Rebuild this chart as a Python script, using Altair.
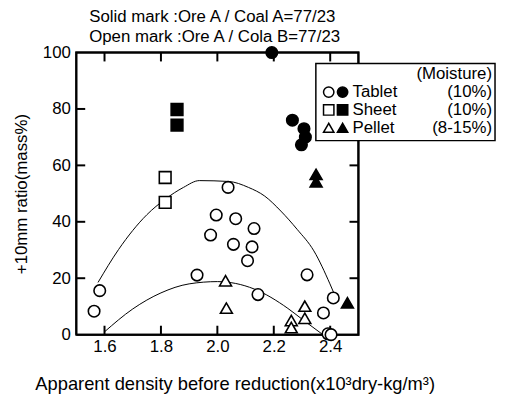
import altair as alt
import pandas as pd

# ---------------- data ----------------
# Open marks: Ore A / Cola B
tablet_open_x = [1.563, 1.583, 1.928, 1.976, 1.996, 2.038, 2.065, 2.057, 2.130, 2.123, 2.107, 2.144, 2.318, 2.411, 2.376, 2.392, 2.403]
tablet_open_y = [8.3, 15.6, 21.1, 35.3, 42.4, 52.2, 41.1, 32.0, 37.6, 31.1, 26.2, 14.2, 21.2, 13.0, 7.7, 0.3, 0.0]
sheet_open_x = [1.815, 1.815]
sheet_open_y = [55.7, 46.9]
pellet_open_x = [2.029, 2.032, 2.310, 2.310, 2.262, 2.262]
pellet_open_y = [19.1, 9.4, 10.1, 5.8, 5.0, 2.5]
# Solid marks: Ore A / Coal A
tablet_solid_x = [2.193, 2.266, 2.307, 2.312, 2.298]
tablet_solid_y = [100.0, 76.0, 73.0, 70.0, 67.3]
sheet_solid_x = [1.857, 1.857]
sheet_solid_y = [79.8, 74.3]
pellet_solid_x = [2.350, 2.350, 2.461]
pellet_solid_y = [56.8, 54.2, 11.3]

# fitted curves
upper_x = [1.577, 1.65, 1.75, 1.815, 1.88, 1.936, 2.04, 2.11, 2.168, 2.225, 2.283, 2.342, 2.399, 2.417]
upper_y = [18.5, 30.2, 42.5, 48.0, 52.2, 54.6, 54.3, 52.2, 49.1, 43.8, 37.3, 29.7, 18.0, 13.8]
lower_x = [1.60, 1.70, 1.80, 1.90, 2.00, 2.13, 2.25, 2.30, 2.37]
lower_y = [1.0, 9.1, 14.8, 18.0, 18.8, 16.2, 9.3, 5.5, 0.3]

x_ticks = [1.6, 1.8, 2.0, 2.2, 2.4]
y_ticks = [20, 40, 60, 80]
y_labels = [0, 20, 40, 60, 80, 100]
x_domain = [1.5, 2.5]
y_domain = [0, 100]

forms = ["Tablet", "Sheet", "Pellet"]
shapes = ["circle", "square", "triangle-up"]
moisture = ["(10%)", "(10%)", "(8-15%)"]
title_lines = ["Solid mark :Ore A / Coal A=77/23", "Open mark :Ore A / Cola B=77/23"]
x_title = "Apparent density before reduction(x10³dry-kg/m³)"
y_title = "+10mm ratio(mass%)"

# ---------------- tables ----------------
rows = []
for form, mix, xs_, ys_ in [
    ("Tablet", "Cola B", tablet_open_x, tablet_open_y),
    ("Sheet", "Cola B", sheet_open_x, sheet_open_y),
    ("Pellet", "Cola B", pellet_open_x, pellet_open_y),
    ("Tablet", "Coal A", tablet_solid_x, tablet_solid_y),
    ("Sheet", "Coal A", sheet_solid_x, sheet_solid_y),
    ("Pellet", "Coal A", pellet_solid_x, pellet_solid_y),
]:
    for a, b in zip(xs_, ys_):
        rows.append({"x": a, "y": b, "form": form, "mix": mix})
pts = pd.DataFrame(rows)
upper = pd.DataFrame({"x": upper_x, "y": upper_y})
lower = pd.DataFrame({"x": lower_x, "y": lower_y})

W, H = 285, 285
TL = 9  # inward tick length in pixels
FONT = "Liberation Sans"
FS = 17
xs = alt.Scale(domain=x_domain, nice=False, zero=False)
ys = alt.Scale(domain=y_domain, nice=False)

# tick length expressed in data units of each scale
dx_tick = (x_domain[1] - x_domain[0]) * TL / W
dy_tick = (y_domain[1] - y_domain[0]) * TL / H

# frame corners (the scale domain) and inward tick segments
frame_df = pd.DataFrame({
    "x": [x_domain[0], x_domain[1], x_domain[1], x_domain[0], x_domain[0]],
    "y": [y_domain[0], y_domain[0], y_domain[1], y_domain[1], y_domain[0]],
    "i": [0, 1, 2, 3, 4],
})
xt_rows = []
for v in x_ticks:
    xt_rows.append({"x": v, "y": y_domain[0], "y2": y_domain[0] + dy_tick})
    xt_rows.append({"x": v, "y": y_domain[1], "y2": y_domain[1] - dy_tick})
xt = pd.DataFrame(xt_rows)
yt_rows = []
for v in y_ticks:
    yt_rows.append({"y": v, "x": x_domain[0], "x2": x_domain[0] + dx_tick})
    yt_rows.append({"y": v, "x": x_domain[1], "x2": x_domain[1] - dx_tick})
yt = pd.DataFrame(yt_rows)

ax_x = alt.Axis(orient="bottom", values=x_ticks, format=".1f", ticks=False, tickSize=0,
                domain=False, grid=False, labelFontSize=FS, labelFont=FONT, labelColor="black",
                labelPadding=4, title=x_title, titleFontSize=18.5, titleFont=FONT,
                titleFontWeight="normal", titleColor="black", titlePadding=20,
                titleX=160, titleAlign="center")
ax_y = alt.Axis(orient="left", values=y_labels, ticks=False, tickSize=0, domain=False, grid=False,
                labelFontSize=FS, labelFont=FONT, labelColor="black", labelPadding=6,
                title=y_title, titleFontSize=FS, titleFont=FONT, titleFontWeight="normal",
                titleColor="black", titlePadding=12)

X = alt.X("x:Q", scale=xs, axis=ax_x)
Y = alt.Y("y:Q", scale=ys, axis=ax_y)

one = alt.Data(values=[{"k": 0}])

frame = alt.Chart(frame_df).mark_line(color="black", strokeWidth=2, interpolate="linear").encode(
    x=X, y=Y, order="i:Q")
ticks_x = alt.Chart(xt).mark_rule(color="black", strokeWidth=2).encode(x=X, y=Y, y2="y2:Q")
ticks_y = alt.Chart(yt).mark_rule(color="black", strokeWidth=2).encode(x=X, y=Y, x2="x2:Q")

curve_up = alt.Chart(upper).mark_line(color="black", strokeWidth=1, interpolate="monotone").encode(
    x=X, y=Y, order="x:Q")
curve_low = alt.Chart(lower).mark_line(color="black", strokeWidth=1, interpolate="monotone").encode(
    x=X, y=Y, order="x:Q")
points = alt.Chart(pts).mark_point(filled=True, stroke="black", strokeWidth=1.6, opacity=1).encode(
    x=X, y=Y,
    shape=alt.Shape("form:N", scale=alt.Scale(domain=forms, range=shapes), legend=None),
    fill=alt.Fill("mix:N", scale=alt.Scale(domain=["Coal A", "Cola B"], range=["black", "white"]), legend=None),
    size=alt.Size("form:N", scale=alt.Scale(domain=forms, range=[135, 145, 135]), legend=None),
)

# ---------------- legend box ----------------
BX0, BX1, BY0, BY1 = 242, 423, 11, 89
LFS = 17
legend_layers = [
    alt.Chart(one).mark_rect(fill="white", stroke="black", strokeWidth=1.5).encode(
        x=alt.value(BX0), x2=alt.value(BX1), y=alt.value(BY0), y2=alt.value(BY1)),
    alt.Chart(one).mark_text(text="(Moisture)", align="right", baseline="middle", fontSize=LFS,
                             font=FONT, color="black").encode(x=alt.value(BX1 - 3), y=alt.value(22)),
]
row_y = [40, 58, 76]
for form, shp, moist, ry in zip(forms, shapes, moisture, row_y):
    legend_layers += [
        alt.Chart(one).mark_point(shape=shp, filled=True, fill="white", stroke="black", strokeWidth=1.5,
                                  size=110, opacity=1).encode(x=alt.value(255), y=alt.value(ry)),
        alt.Chart(one).mark_point(shape=shp, filled=True, fill="black", stroke="black", strokeWidth=1.5,
                                  size=110, opacity=1).encode(x=alt.value(269), y=alt.value(ry)),
        alt.Chart(one).mark_text(text=form, align="left", baseline="middle", fontSize=LFS, font=FONT,
                                 color="black").encode(x=alt.value(279), y=alt.value(ry)),
        alt.Chart(one).mark_text(text=moist, align="right", baseline="middle", fontSize=LFS, font=FONT,
                                 color="black").encode(x=alt.value(BX1 - 3), y=alt.value(ry)),
    ]

chart = alt.layer(
    curve_up, curve_low, frame, ticks_x, ticks_y, points, *legend_layers
).properties(
    width=W, height=H,
    background="white",
    padding={"left": 69, "top": 43, "right": 140, "bottom": 60},
    autosize=alt.AutoSizeParams(type="none"),
    title=alt.TitleParams(text=title_lines, anchor="start", frame="group", dx=13, fontSize=FS,
                          fontWeight="normal", font=FONT, color="black", lineHeight=20, offset=-2),
).configure_view(stroke="black", strokeWidth=2)

chart.save("out.html", embed_options={"renderer": "svg", "actions": False})
